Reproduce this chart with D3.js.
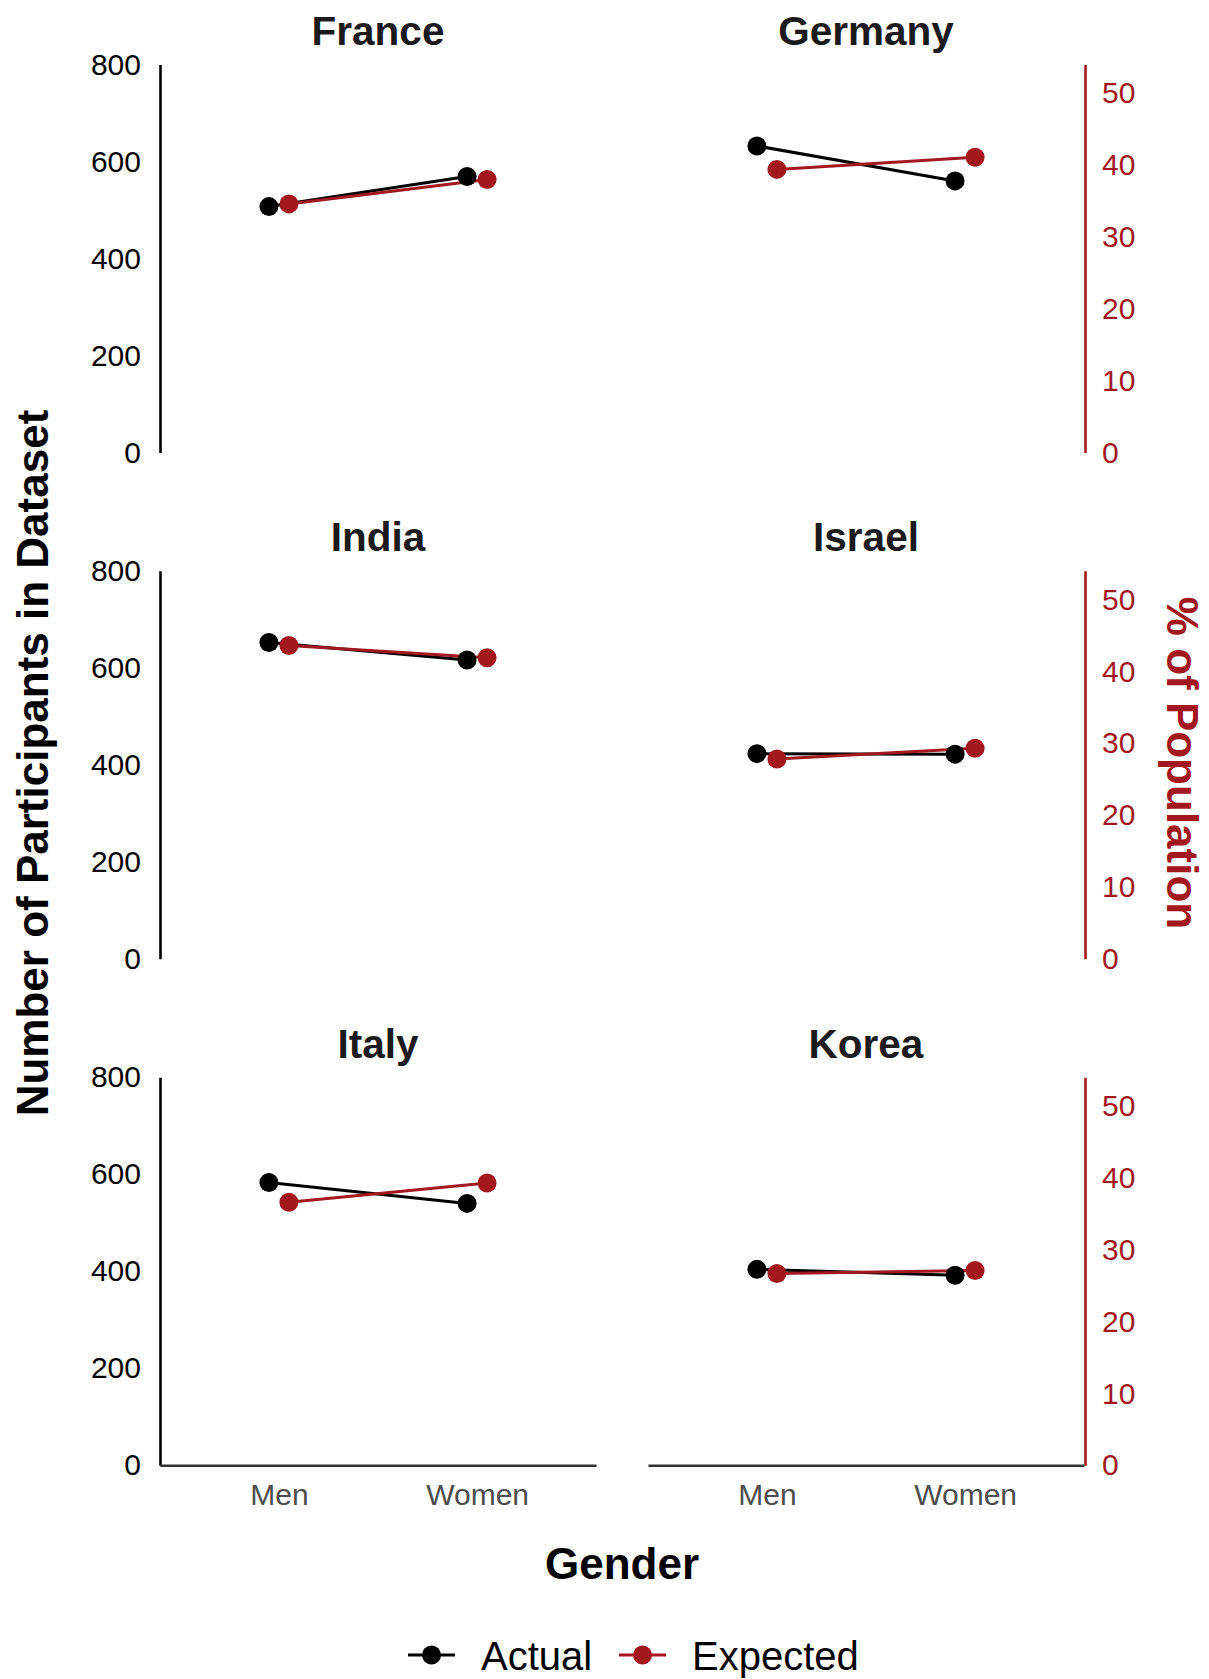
<!DOCTYPE html>
<html>
<head>
<meta charset="utf-8">
<script src="https://cdn.jsdelivr.net/npm/d3@7"></script>
<style>
  html, body { margin: 0; padding: 0; background: #ffffff; }
  svg { display: block; font-family: "Liberation Sans", Arial, Helvetica, sans-serif; }
</style>
</head>
<body>
<svg id="chart" width="1209" height="1679"></svg>
<script>
// ---- Data ----
const countries = ["France", "Germany", "India", "Israel", "Italy", "Korea"];
const genders = ["Men", "Women"];
const actualMen = [507, 632, 652, 423, 583, 404];
const actualWomen = [569, 560, 616, 422, 540, 392];
const expectedMenPct = [34.6, 39.4, 43.6, 27.8, 36.6, 26.7];
const expectedWomenPct = [38.0, 41.1, 41.9, 29.3, 39.3, 27.1];
const countTicks = [0, 200, 400, 600, 800];
const pctTicks = [0, 10, 20, 30, 40, 50];
const seriesNames = ["Actual", "Expected"];

// ---- Styling / layout ----
const RED = "#a3181f";
const BLACK = "#000000";
const svg = d3.select("#chart");
const colX = [160, 648];
const panelW = 436;
const rowY = [64.5, 570.8, 1077.3];
const panelH = 388;
const dodge = 10;
const LW = 3;
const R = 9.5;

const x = d3.scalePoint().domain(genders).range([0, panelW]).padding(0.6);
const yCount = d3.scaleLinear().domain([0, 800]).range([panelH, 0]);
const yPct = d3.scaleLinear().domain([0, 54.0]).range([panelH, 0]);

const line = d3.line().x(d => d.x).y(d => d.y);

countries.forEach((c, i) => {
  const col = i % 2, row = Math.floor(i / 2);
  const g = svg.append("g").attr("transform", `translate(${colX[col]},${rowY[row]})`);

  // title
  g.append("text")
    .attr("x", panelW / 2).attr("y", -19.5)
    .attr("text-anchor", "middle")
    .attr("font-size", 40.5).attr("font-weight", "bold")
    .attr("fill", "#1a1a1a")
    .text(c);

  // left axis (count)
  if (col === 0) {
    const ax = g.append("g").call(d3.axisLeft(yCount).tickValues(countTicks).tickSize(0).tickPadding(19));
    ax.select(".domain").attr("stroke", BLACK).attr("stroke-width", 2.6);
    ax.selectAll("text").attr("font-size", 30).attr("fill", "#000").attr("font-family", "Liberation Sans, Arial, sans-serif");
  }
  // right axis (pct)
  if (col === 1) {
    const ax = g.append("g").attr("transform", `translate(${panelW + 1},0)`)
      .call(d3.axisRight(yPct).tickValues(pctTicks).tickSize(0).tickPadding(17));
    ax.select(".domain").attr("stroke", RED).attr("stroke-width", 2.6);
    ax.selectAll("text").attr("font-size", 30).attr("fill", RED).attr("font-family", "Liberation Sans, Arial, sans-serif");
  }
  // bottom axis only on last row
  if (row === 2) {
    const ax = g.append("g").attr("transform", `translate(0,${panelH})`)
      .call(d3.axisBottom(x).tickSize(0).tickPadding(18));
    ax.select(".domain").attr("stroke", "#333333").attr("stroke-width", 2.6);
    ax.selectAll("text").attr("font-size", 30).attr("fill", "#4d4d4d").attr("font-family", "Liberation Sans, Arial, sans-serif");
  }

  const act = [
    { x: x("Men") - dodge, y: yCount(actualMen[i]) },
    { x: x("Women") - dodge, y: yCount(actualWomen[i]) }
  ];
  const exp = [
    { x: x("Men") + dodge, y: yPct(expectedMenPct[i]) },
    { x: x("Women") + dodge, y: yPct(expectedWomenPct[i]) }
  ];

  g.append("path").attr("d", line(act)).attr("fill", "none").attr("stroke", BLACK).attr("stroke-width", LW);
  g.append("path").attr("d", line(exp)).attr("fill", "none").attr("stroke", RED).attr("stroke-width", LW);
  g.selectAll(".pa").data(act).enter().append("circle")
    .attr("cx", d => d.x).attr("cy", d => d.y).attr("r", R).attr("fill", BLACK);
  g.selectAll(".pe").data(exp).enter().append("circle")
    .attr("cx", d => d.x).attr("cy", d => d.y).attr("r", R).attr("fill", RED);
});

// axis titles
svg.append("text")
  .attr("transform", "translate(48,763) rotate(-90)")
  .attr("text-anchor", "middle")
  .attr("font-size", 44).attr("font-weight", "bold").attr("fill", "#000")
  .text("Number of Participants in Dataset");

svg.append("text")
  .attr("transform", "translate(1167,763) rotate(90)")
  .attr("text-anchor", "middle")
  .attr("font-size", 44).attr("font-weight", "bold").attr("fill", RED)
  .text("% of Population");

svg.append("text")
  .attr("x", 622).attr("y", 1579)
  .attr("text-anchor", "middle")
  .attr("font-size", 44).attr("font-weight", "bold").attr("fill", "#000")
  .text("Gender");

// legend
const legendItems = [
  { name: seriesNames[0], color: BLACK, x0: 408 },
  { name: seriesNames[1], color: RED, x0: 619 }
];
const ly = 1655;
legendItems.forEach(it => {
  const lg = svg.append("g");
  lg.append("line").attr("x1", it.x0).attr("x2", it.x0 + 47).attr("y1", ly).attr("y2", ly)
    .attr("stroke", it.color).attr("stroke-width", LW);
  lg.append("circle").attr("cx", it.x0 + 23.5).attr("cy", ly).attr("r", R).attr("fill", it.color);
  lg.append("text").attr("x", it.x0 + 73).attr("y", ly + 14.5)
    .attr("font-size", 40).attr("fill", "#000").text(it.name);
});
</script>
</body>
</html>
